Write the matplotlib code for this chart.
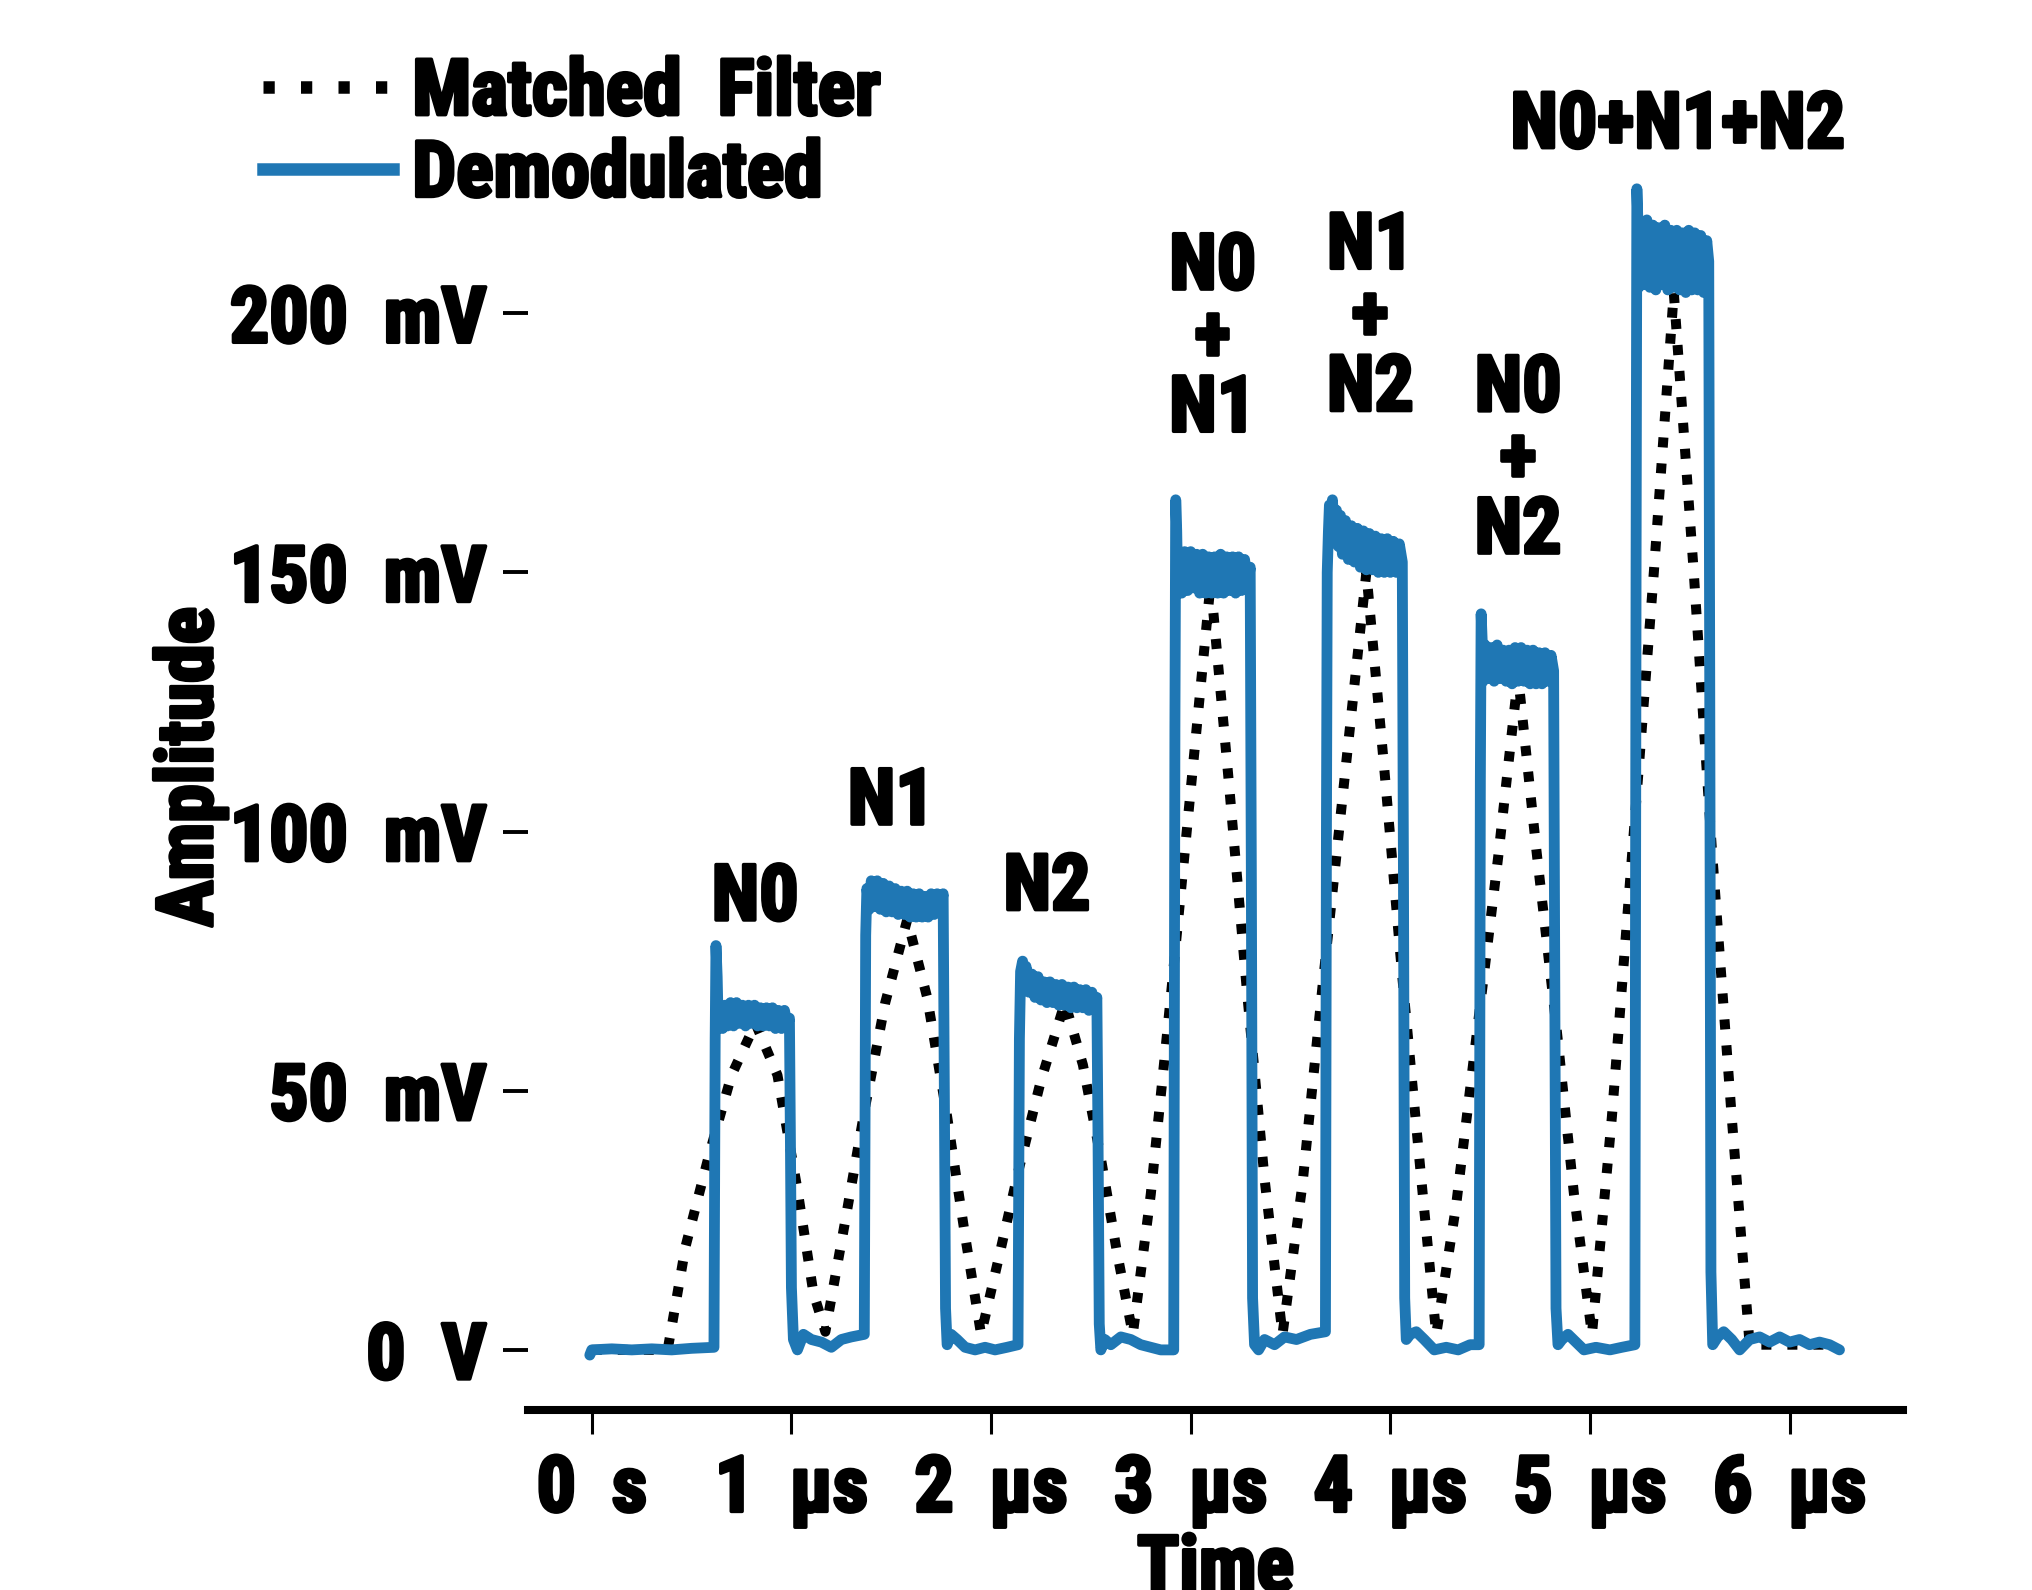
#!/usr/bin/env python3

import matplotlib
matplotlib.use('Agg')
import matplotlib.pyplot as plt
import matplotlib.patheffects as pe
from matplotlib.lines import Line2D

plt.rcParams['font.family'] = ['Roboto Condensed', 'DejaVu Sans']
plt.rc('font', size=28, weight='black')
plt.rc('axes', labelsize=28, labelweight='black')
plt.rc('xtick', labelsize=28)
plt.rc('ytick', labelsize=28)
plt.rc('legend', fontsize=28)

# time in microseconds, amplitude in millivolts
demod_t = [
    -0.01, 0.00, 0.10, 0.20, 0.30, 0.40, 0.50, 0.612,
    # N0
    0.618, 0.622, 0.628, 0.633, 0.645, 0.655, 0.668, 0.680, 0.695, 0.710, 0.725, 0.740,
    0.755, 0.770, 0.785, 0.800, 0.815, 0.830, 0.845, 0.860, 0.875, 0.890, 0.905, 0.920,
    0.935, 0.950, 0.965, 0.980, 0.990,
    0.995, 1.000, 1.010, 1.030, 1.060, 1.100, 1.150, 1.200, 1.250, 1.300, 1.365,
    # N1
    1.372, 1.378, 1.390, 1.400, 1.415, 1.430, 1.445, 1.460, 1.475, 1.490, 1.505, 1.520,
    1.535, 1.550, 1.565, 1.580, 1.595, 1.610, 1.625, 1.640, 1.655, 1.670, 1.685, 1.700,
    1.715, 1.730, 1.745, 1.760,
    1.766, 1.772, 1.780, 1.800, 1.830, 1.870, 1.920, 1.970, 2.020, 2.080, 2.135,
    # N2
    2.142, 2.148, 2.158, 2.165, 2.175, 2.190, 2.205, 2.220, 2.235, 2.250, 2.265, 2.280,
    2.295, 2.310, 2.325, 2.340, 2.355, 2.370, 2.385, 2.400, 2.415, 2.430, 2.445, 2.460,
    2.475, 2.490, 2.505, 2.520, 2.530,
    2.536, 2.542, 2.550, 2.570, 2.600, 2.650, 2.700, 2.750, 2.800, 2.850, 2.915,
    # N0 + N1
    2.921, 2.925, 2.930, 2.935, 2.942, 2.955, 2.970, 2.985, 3.000, 3.015, 3.030, 3.045,
    3.060, 3.075, 3.090, 3.105, 3.120, 3.135, 3.150, 3.165, 3.180, 3.195, 3.210, 3.225,
    3.240, 3.255, 3.270, 3.285, 3.298,
    3.304, 3.310, 3.320, 3.340, 3.370, 3.420, 3.470, 3.530, 3.600, 3.675,
    # N1 + N2
    3.680, 3.684, 3.690, 3.695, 3.705, 3.710, 3.720, 3.730, 3.740, 3.750, 3.760, 3.775,
    3.790, 3.805, 3.820, 3.835, 3.850, 3.865, 3.880, 3.895, 3.910, 3.925, 3.940, 3.955,
    3.970, 3.985, 4.000, 4.015, 4.030, 4.045, 4.060,
    4.066, 4.072, 4.080, 4.100, 4.130, 4.170, 4.220, 4.280, 4.340, 4.400, 4.445,
    # N0 + N2
    4.451, 4.455, 4.460, 4.465, 4.475, 4.490, 4.505, 4.520, 4.535, 4.550, 4.565, 4.580,
    4.595, 4.610, 4.625, 4.640, 4.655, 4.670, 4.685, 4.700, 4.715, 4.730, 4.745, 4.760,
    4.775, 4.790, 4.805, 4.818,
    4.824, 4.830, 4.840, 4.860, 4.890, 4.930, 4.970, 5.030, 5.100, 5.160, 5.225,
    # N0 + N1 + N2
    5.231, 5.235, 5.240, 5.245, 5.255, 5.270, 5.285, 5.300, 5.315, 5.330, 5.345, 5.360,
    5.375, 5.390, 5.405, 5.420, 5.435, 5.450, 5.465, 5.480, 5.495, 5.510, 5.525, 5.540,
    5.555, 5.570, 5.585, 5.595,
    5.600, 5.606, 5.615, 5.640, 5.670, 5.710, 5.750, 5.800, 5.850, 5.900, 5.950, 6.000,
    6.050, 6.100, 6.150, 6.200, 6.250,
]
demod_mv = [
    -1.0, 0.0, 0.2, 0.0, 0.2, 0.0, 0.3, 0.5,
    # N0
    60, 78, 72, 63, 66, 62, 66.5, 62.5, 67, 62.5, 67, 63,
    66.5, 62.5, 66.5, 63, 66.5, 62.5, 66, 62.5, 66, 62.5, 66, 62,
    65.5, 62, 65.5, 62.5, 64,
    40, 12, 2, 0, 3, 2, 1.5, 0.5, 2, 2.5, 3,
    # N1
    80, 89, 85, 90.5, 85.5, 90.5, 85, 90, 84.5, 89.5, 84.5, 89,
    84, 88.5, 84, 88.5, 83.5, 88, 83.5, 88, 83.5, 87.5, 83.5, 88,
    84, 88, 84.5, 88,
    50, 8, 1, 3, 2, 0.5, 0, 0.5, 0, 0.5, 1,
    # N2
    60, 73, 75, 70, 74, 69, 72.5, 68, 72, 67.5, 71, 67,
    71, 67, 70.5, 66.5, 70.5, 66.5, 70, 66, 70, 66, 69.5, 66,
    69.5, 65.5, 69, 66, 68,
    40, 5, 0, 2, 1, 2.5, 2, 1, 0.5, 0, 0,
    # N0 + N1
    120, 164, 158, 146, 153, 146, 154, 146.5, 154, 147, 153.5, 146,
    153.5, 146, 153, 146, 153, 146, 153.5, 146, 153, 146.5, 153, 146,
    153, 146.5, 152.5, 147, 151,
    90, 10, 1, 0, 2, 1, 2.5, 2, 3, 3.5,
    # N1 + N2
    100, 150, 158, 163, 159, 164, 157, 162, 155, 161, 153.5, 160,
    152.5, 159, 152, 158.5, 151, 158, 150.5, 157.5, 150.5, 157, 150, 156.5,
    150, 156.5, 150, 156, 150, 155.5, 152,
    90, 10, 2, 3, 3.5, 2, 0, 0.5, 0, 1, 1,
    # N0 + N2
    110, 142, 137, 129, 136, 129.5, 135.5, 129, 136, 129.5, 135, 129,
    135, 128.5, 135.5, 129, 135.5, 129, 135, 128.5, 135, 128.5, 134.5, 128.5,
    134.5, 129, 134, 131,
    70, 8, 1, 2, 3, 1.5, 0, 0.5, 0, 0.5, 1,
    # N0 + N1 + N2
    150, 224, 218, 205, 217, 205.5, 218, 205, 217, 204.5, 216.5, 205.5,
    217, 204.5, 216, 205, 216, 204.5, 215.5, 204, 216, 204.5, 215.5, 204.5,
    215, 204, 214, 210,
    130, 15, 1, 2.5, 3.5, 2, 0, 2, 2.5, 1.5, 2.5, 1.5,
    2, 1, 1.5, 1, 0,
]

matched_t = [
    0.00, 0.38, 0.47, 0.59, 0.70, 0.82, 0.93, 1.03, 1.11, 1.17,
    1.27, 1.37, 1.47, 1.58, 1.68, 1.78, 1.87, 1.95,
    2.04, 2.14, 2.25, 2.37, 2.46, 2.55, 2.63, 2.71,
    2.80, 2.90, 3.00, 3.10, 3.19, 3.28, 3.37, 3.46,
    3.56, 3.66, 3.77, 3.88, 3.97, 4.06, 4.15, 4.23,
    4.33, 4.43, 4.54, 4.64, 4.73, 4.83, 4.92, 5.01,
    5.11, 5.21, 5.32, 5.42, 5.52, 5.61, 5.71, 5.80, 6.00, 6.20,
]
matched_mv = [
    0, 0, 20, 38, 53, 63, 53, 31, 11, 3.5,
    25, 47, 67, 83, 68, 45, 22, 3,
    18, 35, 52, 67, 55, 37, 19, 3,
    30, 68, 108, 148, 110, 70, 33, 3,
    32, 70, 110, 150, 112, 72, 35, 3,
    28, 60, 95, 130, 97, 63, 30, 3,
    45, 95, 150, 204, 150, 97, 45, 1, 1, 1,
]

x_ticks = [0, 1, 2, 3, 4, 5, 6]
x_ticklabels = ["0  s", "1  µs", "2  µs", "3  µs", "4  µs", "5  µs", "6  µs"]
y_ticks = [0, 50, 100, 150, 200]
y_ticklabels = ["0  V", "50  mV", "100  mV", "150  mV", "200  mV"]

peak_labels = ["N0", "N1", "N2", "N0\n+\nN1", "N1\n+\nN2", "N0\n+\nN2", "N0+N1+N2"]
peak_label_t = [0.818, 1.50, 2.28, 3.11, 3.90, 4.64, 5.44]
peak_label_mv = [87, 105.5, 89, 195, 199, 171.5, 236]

BLUE = '#1f77b4'
heavy = [pe.withStroke(linewidth=1.3, foreground='black')]

if __name__ == '__main__':
    fig = plt.figure(figsize=(10.16, 7.95), dpi=200)
    ax = fig.add_axes([0.2598, 0.1132, 0.6767, 0.8528])

    ax.plot(matched_t, matched_mv, color='black', linewidth=3.6,
            linestyle=(0, (1.0, 1.6)), dash_capstyle='butt')
    ax.plot(demod_t, demod_mv, color=BLUE, linewidth=3.9,
            solid_capstyle='round', solid_joinstyle='round')

    for txt, tx, ty in zip(peak_labels, peak_label_t, peak_label_mv):
        ax.text(tx, ty, txt, ha='center', va='center', fontsize=28,
                fontweight='black', linespacing=0.95, path_effects=heavy)

    ax.set_xlim(-0.32, 6.568)
    ax.set_ylim(-11.6, 250)
    ax.set_xticks(x_ticks)
    ax.set_xticklabels(x_ticklabels)
    ax.set_yticks(y_ticks)
    ax.set_yticklabels(y_ticklabels)

    for side in ['top', 'right', 'left']:
        ax.spines[side].set_visible(False)
    ax.spines['bottom'].set_linewidth(2.9)
    ax.tick_params(axis='x', length=8.6, width=1.1, pad=7)
    ax.tick_params(axis='y', length=9, width=1.4, pad=6)
    for lab in ax.get_xticklabels() + ax.get_yticklabels():
        lab.set_path_effects(heavy)

    ax.set_xlabel("Time", labelpad=2, path_effects=heavy)
    fig.text(0.094, 0.5176, "Amplitude", rotation=90, ha='center', va='center',
             fontsize=28, fontweight='black', path_effects=heavy)

    handles = [Line2D([], [], color='black', linewidth=4.5, linestyle=(0, (0.9, 2.1)),
                      dash_capstyle='butt'),
               Line2D([], [], color=BLUE, linewidth=4.5)]
    leg = fig.legend(handles, ["Matched  Filter", "Demodulated"], loc='upper left',
                     bbox_to_anchor=(0.1294, 0.9644), frameon=False, borderpad=0,
                     borderaxespad=0, handlelength=1.67, handletextpad=0.25,
                     labelspacing=0.1)
    for t in leg.get_texts():
        t.set_path_effects(heavy)

    plt.savefig("out.png", dpi=200)
